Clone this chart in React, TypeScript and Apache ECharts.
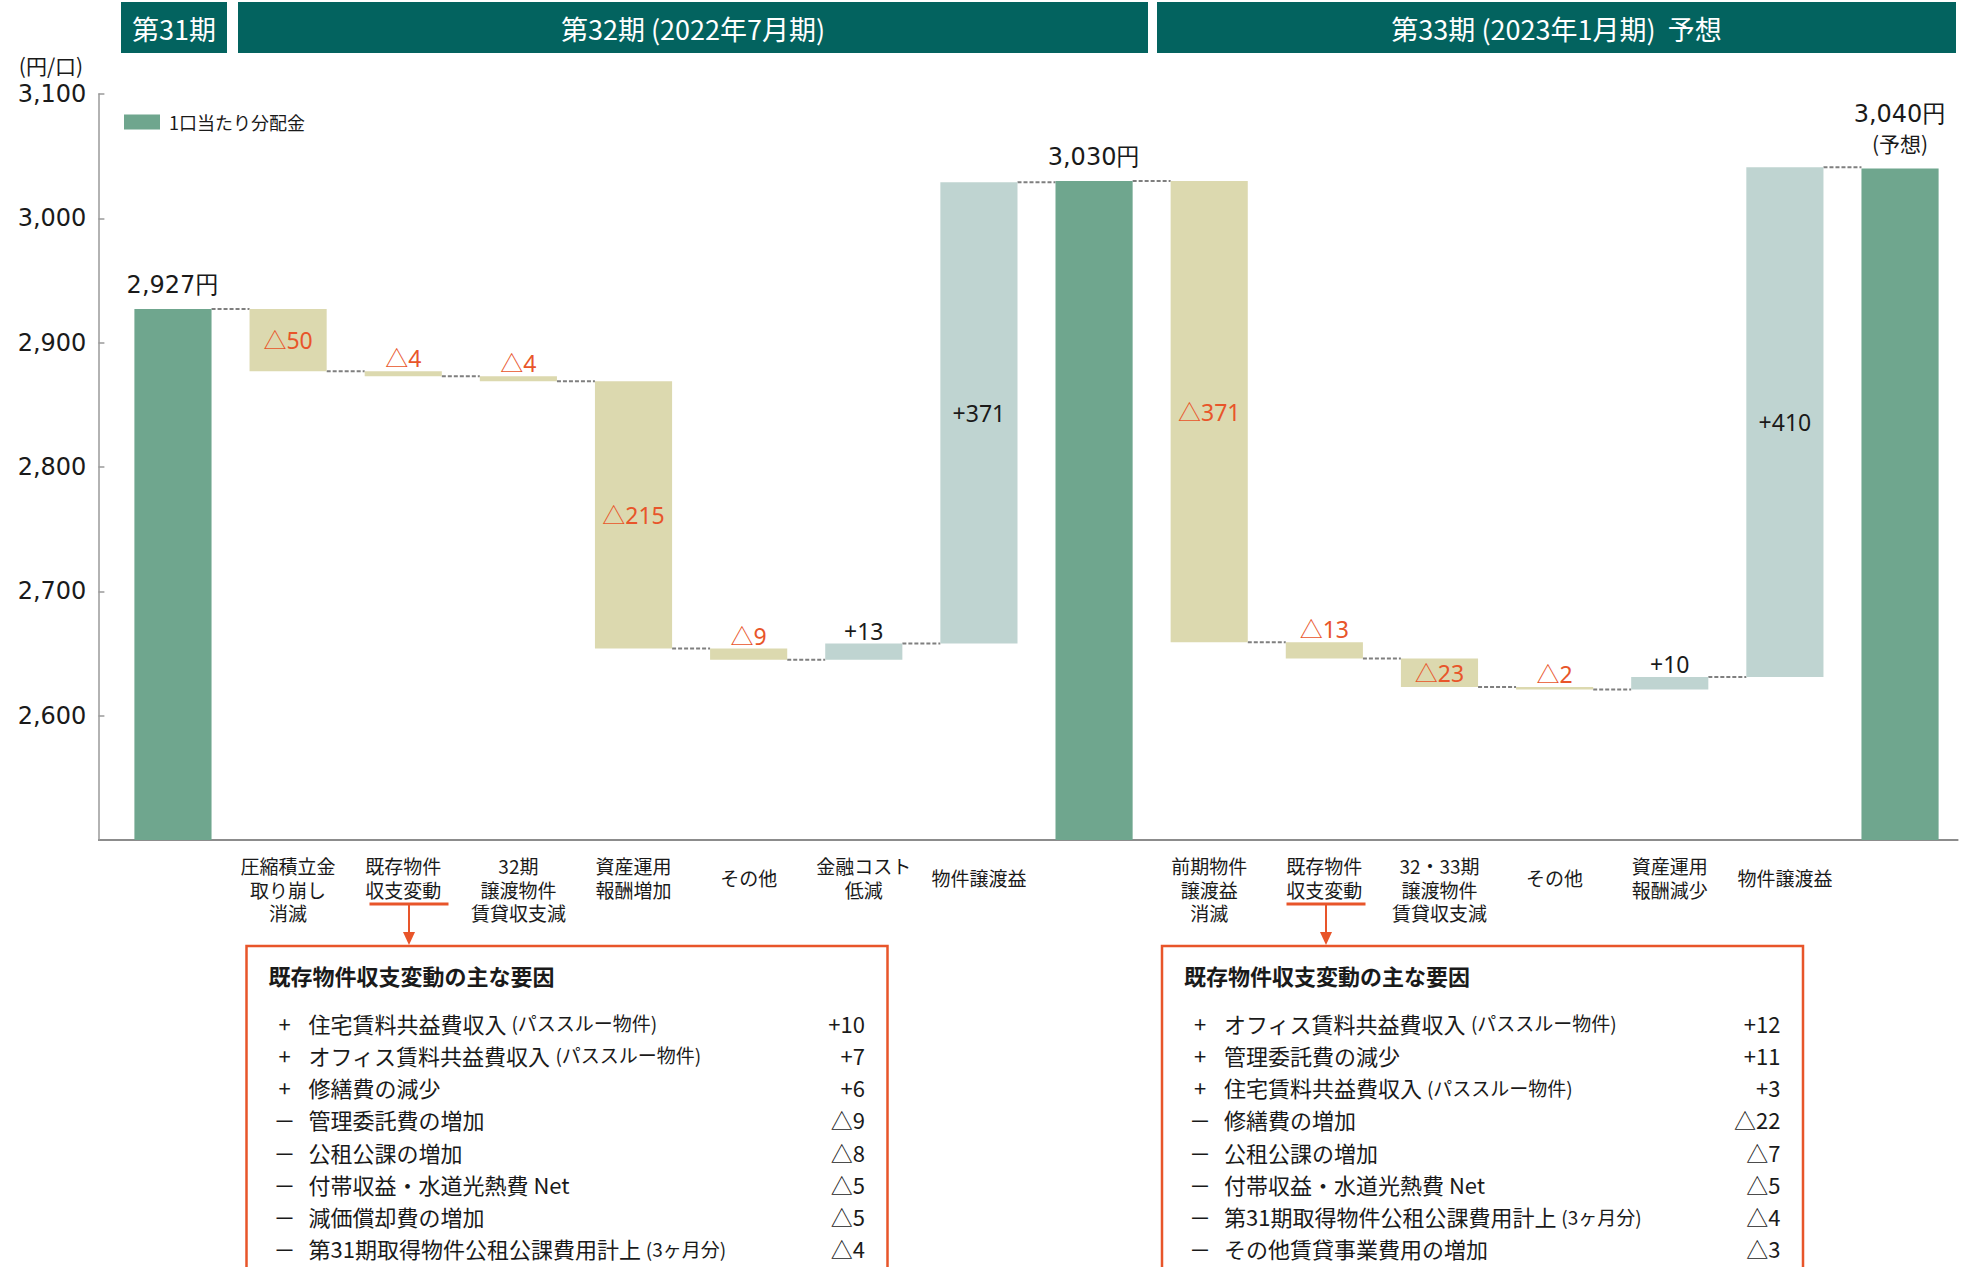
import React, { useEffect, useRef } from 'react';
import * as echarts from 'echarts';

// ---------- DATA ----------
const categories = [
  '',
  '圧縮積立金\n取り崩し\n消滅',
  '既存物件\n収支変動',
  '32期\n譲渡物件\n賃貸収支減',
  '資産運用\n報酬増加',
  'その他',
  '金融コスト\n低減',
  '物件譲渡益',
  '',
  '前期物件\n譲渡益\n消滅',
  '既存物件\n収支変動',
  '32・33期\n譲渡物件\n賃貸収支減',
  'その他',
  '資産運用\n報酬減少',
  '物件譲渡益',
  '',
];
const values = [2927, -50, -4, -4, -215, -9, 13, 371, 3030, -371, -13, -23, -2, 10, 410, 3040];
const isTotal = [true, false, false, false, false, false, false, false, true, false, false, false, false, false, false, true];
const totalNotes = ['', '', '(予想)'];
const Y_MIN = 2500;
const Y_MAX = 3100;
const Y_STEP = 100;
const seriesName = '1口当たり分配金';
const periodHeaders = ['第31期', '第32期 (2022年7月期)', '第33期 (2023年1月期)  予想'];
const unitLabel = '(円/口)';
const boxTitle = '既存物件収支変動の主な要因';
const leftFactors: [string, string, string, string][] = [
  ['+', '住宅賃料共益費収入', '(パススルー物件)', '+10'],
  ['+', 'オフィス賃料共益費収入', '(パススルー物件)', '+7'],
  ['+', '修繕費の減少', '', '+6'],
  ['－', '管理委託費の増加', '', '△9'],
  ['－', '公租公課の増加', '', '△8'],
  ['－', '付帯収益・水道光熱費 Net', '', '△5'],
  ['－', '減価償却費の増加', '', '△5'],
  ['－', '第31期取得物件公租公課費用計上', '(3ヶ月分)', '△4'],
];
const rightFactors: [string, string, string, string][] = [
  ['+', 'オフィス賃料共益費収入', '(パススルー物件)', '+12'],
  ['+', '管理委託費の減少', '', '+11'],
  ['+', '住宅賃料共益費収入', '(パススルー物件)', '+3'],
  ['－', '修繕費の増加', '', '△22'],
  ['－', '公租公課の増加', '', '△7'],
  ['－', '付帯収益・水道光熱費 Net', '', '△5'],
  ['－', '第31期取得物件公租公課費用計上', '(3ヶ月分)', '△4'],
  ['－', 'その他賃貸事業費用の増加', '', '△3'],
];

// ---------- STYLE ----------
const GREEN = '#6FA68E';
const BEIGE = '#DCD9AF';
const BLUE = '#BFD4D1';
const ORANGE = '#E8552A';
const TEAL = '#03635F';
const TXT = '#1a1a1a';
const FONT_JP = '"Noto Sans CJK JP", "Noto Sans", sans-serif';
const FONT_NUM = '"DejaVu Sans", sans-serif';
const FONT_DELTA = '"Noto Sans", "Noto Sans CJK JP", sans-serif';

const fmt = (v: number) => v.toLocaleString('en-US');

function buildData() {
  const totals: number[][] = [];
  const deltas: number[][] = [];
  const connectors: number[][] = [];
  let level = 0;
  values.forEach((v, i) => {
    if (isTotal[i]) {
      totals.push([i, Y_MIN, v, v]);
      level = v;
    } else {
      const start = level;
      const end = level + v;
      deltas.push([i, Math.min(start, end), Math.max(start, end), v]);
      level = end;
    }
    if (i < values.length - 1) connectors.push([i, level]);
  });
  return { totals, deltas, connectors };
}

const center = { align: 'center', verticalAlign: 'middle', textAlign: 'center', textVerticalAlign: 'middle' };
const leftMid = { align: 'left', verticalAlign: 'middle', textAlign: 'left', textVerticalAlign: 'middle' };
const rightMid = { align: 'right', verticalAlign: 'middle', textAlign: 'right', textVerticalAlign: 'middle' };

function factorBox(x: number, rows: [string, string, string, string][]) {
  const els: any[] = [];
  const top = 946;
  els.push({
    type: 'rect',
    shape: { x, y: top, width: 641, height: 400 },
    style: { fill: 'none', stroke: ORANGE, lineWidth: 2.5 },
  });
  els.push({
    type: 'text',
    x: x + 22,
    y: 975,
    style: { text: boxTitle, fill: TXT, fontSize: 22, fontWeight: 'bold', fontFamily: FONT_JP, ...leftMid },
  });
  rows.forEach((r, k) => {
    const y = 1022.5 + k * 32.25;
    els.push({
      type: 'text',
      x: x + 38,
      y,
      style: { text: r[0], fill: TXT, fontSize: 22, fontFamily: FONT_JP, ...center },
    });
    els.push({
      type: 'text',
      x: x + 62,
      y,
      style: {
        text: r[2] ? `${r[1]} {s|${r[2]}}` : r[1],
        fill: TXT, fontSize: 22, fontFamily: FONT_JP, ...leftMid,
        rich: { s: { fontSize: 19, fontFamily: FONT_JP, fill: TXT } },
      },
    });
    els.push({
      type: 'text',
      x: x + 618.5,
      y,
      style: { text: r[3], fill: TXT, fontSize: 22, fontFamily: FONT_JP, ...rightMid },
    });
  });
  return els;
}

function arrow(cx: number) {
  return [
    { type: 'line', shape: { x1: cx - 39.5, y1: 904, x2: cx + 39.5, y2: 904 }, style: { stroke: ORANGE, lineWidth: 3 } },
    { type: 'line', shape: { x1: cx, y1: 904, x2: cx, y2: 934 }, style: { stroke: ORANGE, lineWidth: 2 } },
    { type: 'polygon', shape: { points: [[cx - 6, 932], [cx + 6, 932], [cx, 945]] }, style: { fill: ORANGE } },
  ];
}

function header(x: number, w: number, text: string) {
  return [
    { type: 'rect', shape: { x, y: 2, width: w, height: 51 }, style: { fill: TEAL } },
    {
      type: 'text',
      x: x + w / 2,
      y: 28,
      style: { text, fill: '#ffffff', fontSize: 27, fontFamily: FONT_JP, ...center },
    },
  ];
}

export default function App() {
  const ref = useRef<HTMLDivElement>(null);
  useEffect(() => {
    if (!ref.current) return;
    const chart = echarts.init(ref.current, undefined, { renderer: 'svg' });
    const { totals, deltas, connectors } = buildData();

    const option: any = {
      animation: false,
      backgroundColor: '#ffffff',
      grid: { left: 115.4, right: 15.4, top: 94, bottom: 427, containLabel: false, outerBoundsMode: 'none' },
      legend: {
        data: [seriesName],
        left: 119,
        top: 108,
        icon: 'rect',
        itemWidth: 36,
        itemHeight: 15,
        textStyle: { fontSize: 18, fontFamily: FONT_JP, color: TXT, padding: [0, 0, 0, 4] },
      },
      xAxis: {
        type: 'category',
        data: categories,
        axisLine: { show: true, lineStyle: { color: '#8c8c8c', width: 2 } },
        axisTick: { show: false },
        axisLabel: {
          interval: 0,
          margin: 14,
          fontSize: 19,
          lineHeight: 23.5,
          fontFamily: FONT_JP,
          color: TXT,
          formatter: (v: string) => (v === '' ? '' : v.includes('\n') ? v : `{one|${v}}`),
          rich: { one: { fontSize: 19, lineHeight: 47, fontFamily: FONT_JP, color: TXT } },
        },
        splitLine: { show: false },
      },
      yAxis: {
        type: 'value',
        min: Y_MIN,
        max: Y_MAX,
        interval: Y_STEP,
        offset: 17,
        axisLine: { show: true, lineStyle: { color: '#9a9a9a', width: 1.5 } },
        axisTick: { show: true, inside: true, length: 6, lineStyle: { color: '#9a9a9a', width: 1.5 } },
        axisLabel: {
          showMinLabel: false,
          margin: 12,
          fontSize: 24,
          fontFamily: FONT_NUM,
          color: TXT,
          formatter: (v: number) => fmt(v),
        },
        splitLine: { show: false },
      },
      series: [
        {
          type: 'custom',
          name: 'connector',
          silent: true,
          z: 1,
          encode: { x: 0, y: 1 },
          data: connectors,
          renderItem: (params: any, api: any) => {
            const i = api.value(0);
            const lvl = api.value(1);
            const p = api.coord([i, lvl]);
            const band = api.size([1, 0])[0];
            const bw = band * 0.67;
            return {
              type: 'line',
              shape: { x1: p[0] + bw / 2, y1: p[1], x2: p[0] + band - bw / 2, y2: p[1] },
              style: { stroke: '#7f7f7f', lineWidth: 2, lineDash: [4, 2] },
            };
          },
        },
        {
          type: 'custom',
          name: seriesName,
          silent: true,
          z: 2,
          itemStyle: { color: GREEN },
          encode: { x: 0, y: [1, 2] },
          data: totals,
          renderItem: (params: any, api: any) => {
            const i = api.value(0);
            const lo = api.value(1);
            const hi = api.value(2);
            const v = api.value(3);
            const top = api.coord([i, hi]);
            const bot = api.coord([i, lo]);
            const bw = api.size([1, 0])[0] * 0.67;
            const note = totalNotes[params.dataIndex];
            const children: any[] = [
              {
                type: 'rect',
                shape: { x: top[0] - bw / 2, y: top[1], width: bw, height: bot[1] - top[1] },
                style: { fill: GREEN },
              },
              {
                type: 'text',
                x: top[0],
                y: top[1] - (note ? 55 : 24),
                style: { text: fmt(v) + '円', fill: TXT, fontSize: 24, fontFamily: FONT_NUM, ...center },
              },
            ];
            if (note) {
              children.push({
                type: 'text',
                x: top[0],
                y: top[1] - 26,
                style: { text: note, fill: TXT, fontSize: 21, fontFamily: FONT_JP, ...center },
              });
            }
            return { type: 'group', children };
          },
        },
        {
          type: 'custom',
          name: '増減',
          silent: true,
          z: 2,
          encode: { x: 0, y: [1, 2] },
          data: deltas,
          renderItem: (params: any, api: any) => {
            const i = api.value(0);
            const lo = api.value(1);
            const hi = api.value(2);
            const v = api.value(3);
            const top = api.coord([i, hi]);
            const bot = api.coord([i, lo]);
            const bw = api.size([1, 0])[0] * 0.67;
            const h = bot[1] - top[1];
            const neg = v < 0;
            const label = neg ? '△' + Math.abs(v) : '+' + v;
            const ly = h >= 26 ? top[1] + h / 2 : top[1] - 13;
            return {
              type: 'group',
              children: [
                {
                  type: 'rect',
                  shape: { x: top[0] - bw / 2, y: top[1], width: bw, height: h },
                  style: { fill: neg ? BEIGE : BLUE },
                },
                {
                  type: 'text',
                  x: top[0],
                  y: ly,
                  style: { text: label, fill: neg ? ORANGE : TXT, fontSize: 23, fontFamily: FONT_DELTA, ...center },
                },
              ],
            };
          },
        },
      ],
      graphic: {
        elements: [
          ...header(121, 106, periodHeaders[0]),
          ...header(238, 910, periodHeaders[1]),
          ...header(1157, 799, periodHeaders[2]),
          {
            type: 'text',
            x: 51,
            y: 65,
            style: { text: unitLabel, fill: TXT, fontSize: 21, fontFamily: FONT_JP, ...center },
          },
          { type: 'line', shape: { x1: 98, y1: 840, x2: 116, y2: 840 }, style: { stroke: '#8c8c8c', lineWidth: 2 } },
          ...arrow(409),
          ...arrow(1326),
          ...factorBox(246.5, leftFactors),
          ...factorBox(1162, rightFactors),
        ],
      },
    };
    chart.setOption(option);
    return () => chart.dispose();
  }, []);
  return (
    <div
      ref={ref}
      style={{ position: 'absolute', left: 0, top: 0, width: 1973, height: 1267, background: '#fff' }}
    />
  );
}
